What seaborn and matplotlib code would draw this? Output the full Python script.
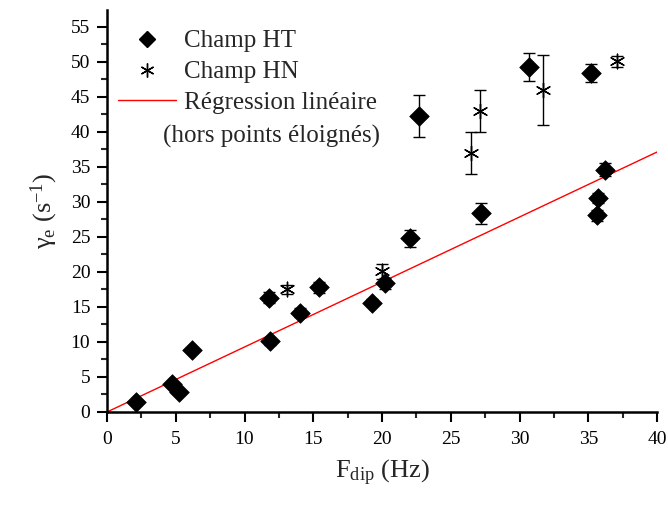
import matplotlib
matplotlib.use("Agg")
import matplotlib.pyplot as plt
import seaborn as sns
import numpy as np
import pandas as pd
from matplotlib.lines import Line2D
from matplotlib.ticker import MultipleLocator

# ---- data ----
ht_x = [2.1, 4.7, 5.2, 6.2, 11.8, 11.85, 14.0, 15.4, 19.25, 20.25, 22.0, 22.7, 27.2, 30.7, 35.2, 35.6, 35.7, 36.2]
ht_y = [1.4, 4.0, 2.9, 8.8, 16.3, 10.1, 14.2, 17.8, 15.6, 18.4, 24.8, 42.2, 28.4, 49.3, 48.4, 28.1, 30.6, 34.6]
ht_err = [0.0, 0.0, 0.0, 0.0, 0.8, 0.5, 0.7, 0.8, 0.5, 0.8, 1.2, 3.0, 1.5, 2.0, 1.3, 0.8, 0.7, 0.9]

hn_x = [13.1, 20.0, 26.5, 27.1, 31.7, 37.1]
hn_y = [17.5, 20.1, 37.0, 43.0, 46.0, 50.1]
hn_err = [0.6, 1.1, 3.0, 3.0, 5.0, 0.8]

reg_slope = 0.928
reg_intercept = 0.0
reg_x = [0.0, 40.0]

labels = ["Champ HT", "Champ HN", "Régression linéaire", "(hors points éloignés)"]

# ---- style ----
sns.set_style("ticks")
plt.rcParams["font.family"] = ["Liberation Serif", "DejaVu Serif"]
plt.rcParams["mathtext.fontset"] = "custom"
plt.rcParams["mathtext.rm"] = "Liberation Serif"
plt.rcParams["mathtext.it"] = "Liberation Serif:italic"

fig = plt.figure(figsize=(6.68, 5.08), dpi=100)
ax = fig.add_axes([107 / 668, 96 / 508, 550 / 668, 402 / 508])

df_ht = pd.DataFrame({"x": ht_x, "y": ht_y, "e": ht_err})
df_hn = pd.DataFrame({"x": hn_x, "y": hn_y, "e": hn_err})
df_reg = pd.DataFrame({"x": reg_x, "y": [reg_slope * v + reg_intercept for v in reg_x]})

sns.lineplot(data=df_reg, x="x", y="y", color="red", linewidth=1.0, ax=ax, zorder=2)

ax.errorbar(df_ht["x"], df_ht["y"], yerr=df_ht["e"], fmt="none", ecolor="black",
            elinewidth=1.0, capsize=4.5, capthick=1.0, zorder=3)
ax.errorbar(df_hn["x"], df_hn["y"], yerr=df_hn["e"], fmt="none", ecolor="black",
            elinewidth=1.0, capsize=4.5, capthick=1.0, zorder=3)

star = (6, 2, 0)
sns.scatterplot(data=df_ht, x="x", y="y", marker="D", s=100, color="black",
                edgecolor="black", linewidth=0.5, ax=ax, zorder=4)
sns.scatterplot(data=df_hn, x="x", y="y", marker=star, s=110, color="black",
                linewidth=1.0, ax=ax, zorder=4)

ax.set_xlim(0, 40)
ax.set_ylim(0, 57.4)
ax.xaxis.set_major_locator(MultipleLocator(5))
ax.xaxis.set_minor_locator(MultipleLocator(2.5))
ax.yaxis.set_major_locator(MultipleLocator(5))
ax.yaxis.set_minor_locator(MultipleLocator(2.5))
ax.tick_params(which="major", direction="out", length=7, width=1.5, labelsize=14,
               colors="black")
ax.tick_params(axis="x", which="major", pad=7)
ax.tick_params(axis="y", which="major", pad=5)
ax.tick_params(which="minor", direction="out", length=4.5, width=1.5)
for side in ["top", "right"]:
    ax.spines[side].set_visible(False)
for side in ["left", "bottom"]:
    ax.spines[side].set_linewidth(1.8)
    ax.spines[side].set_color("black")

ax.set_xlabel(r"F$_\mathrm{dip}$ (Hz)", fontsize=19, labelpad=7)
ax.set_ylabel(r"γ$_\mathrm{e}$ (s$^\mathrm{-1}$)", fontsize=19, labelpad=8)

handles = [
    Line2D([], [], linestyle="none", marker="D", markersize=8, color="black"),
    Line2D([], [], linestyle="none", marker=star, markersize=10, color="black",
           markeredgewidth=1.0),
    Line2D([], [], color="red", linewidth=1.0),
]
leg = ax.legend(handles, labels[:3], loc="upper left", frameon=False, fontsize=18,
                bbox_to_anchor=(11 / 550, 1 - 20 / 402), borderpad=0, borderaxespad=0,
                handlelength=2.3, handletextpad=0.35, labelspacing=0.33)
ax.text(56 / 550, 1 - 126 / 402, labels[3], transform=ax.transAxes, fontsize=18,
        ha="left", va="center")

fig.savefig("out.png", dpi=100)
